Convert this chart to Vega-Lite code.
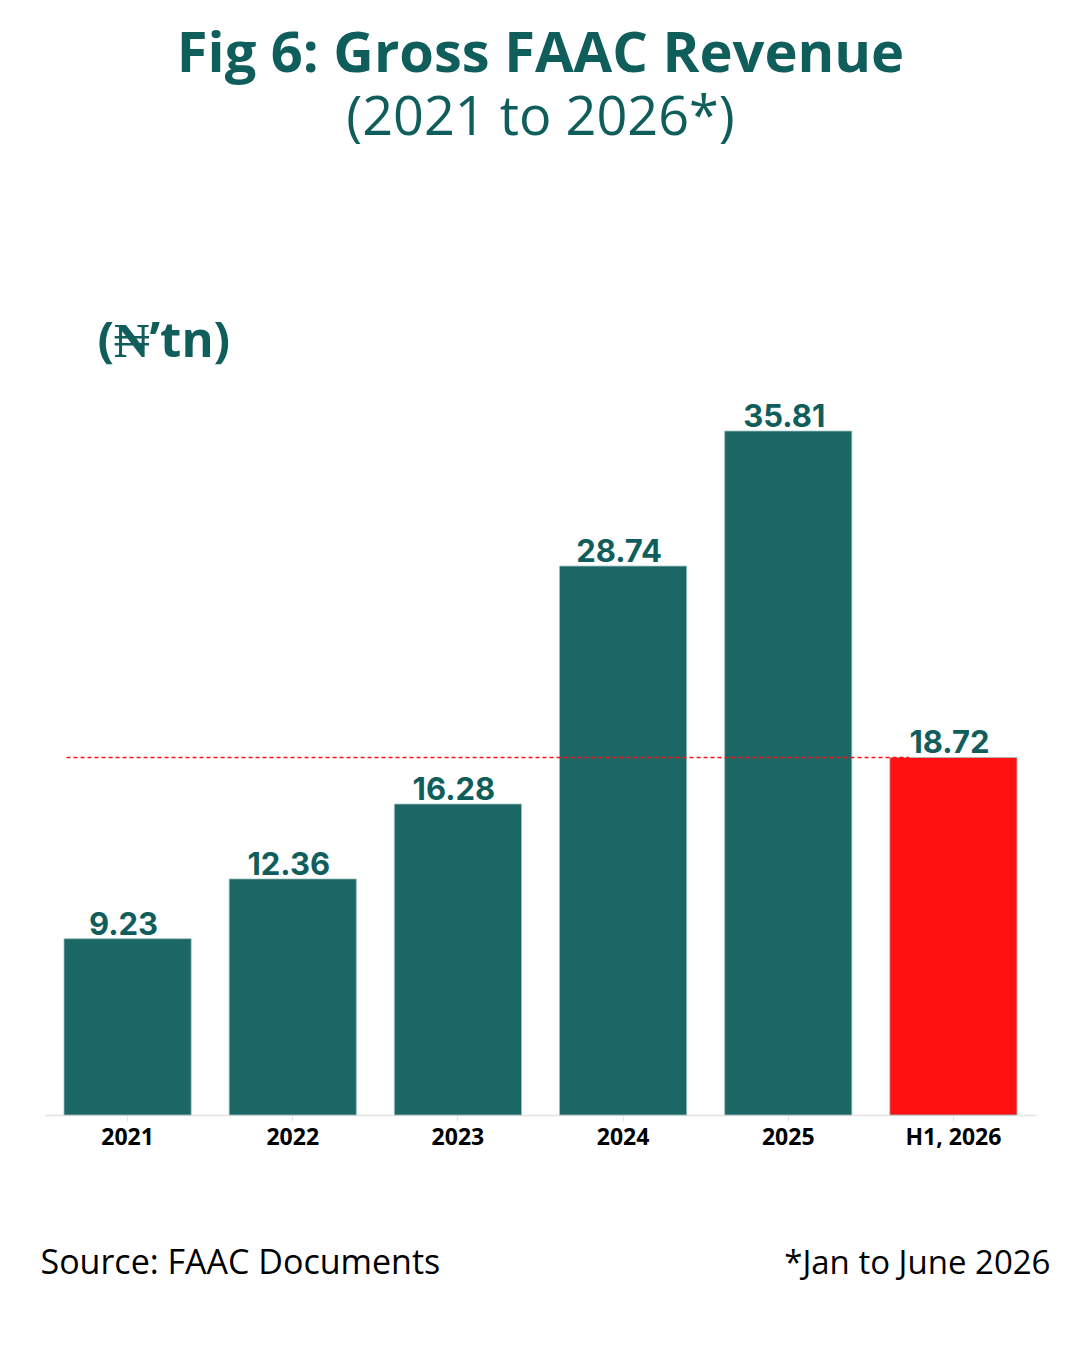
{
  "$schema": "https://vega.github.io/schema/vega-lite/v6.json",
  "width": 991,
  "height": 764,
  "autosize": {"type": "none"},
  "padding": {"left": 45, "top": 351, "right": 44, "bottom": 235},
  "background": "white",
  "config": {"view": {"stroke": null}, "font": "Open Sans"},
  "title": {
    "text": "Fig 6: Gross FAAC Revenue",
    "subtitle": "(2021 to 2026*)",
    "anchor": "middle",
    "frame": "group",
    "font": "Open Sans",
    "fontSize": 56,
    "fontWeight": "bold",
    "color": "#105e5c",
    "subtitleFont": "Open Sans",
    "subtitleFontSize": 54,
    "subtitleFontWeight": "normal",
    "subtitleColor": "#105e5c",
    "subtitlePadding": 8,
    "offset": 170
  },
  "data": {
    "values": [
      {"period": "2021", "value": 9.23, "kind": "Full year"},
      {"period": "2022", "value": 12.36, "kind": "Full year"},
      {"period": "2023", "value": 16.28, "kind": "Full year"},
      {"period": "2024", "value": 28.74, "kind": "Full year"},
      {"period": "2025", "value": 35.81, "kind": "Full year"},
      {"period": "H1, 2026", "value": 18.72, "kind": "Half year"}
    ]
  },
  "encoding": {
    "x": {
      "field": "period",
      "type": "nominal",
      "sort": null,
      "scale": {"paddingInner": 0.23, "paddingOuter": 0.115},
      "axis": {
        "title": "Source: FAAC Documents",
        "titleX": -5,
        "titleY": 158,
        "titleAnchor": "start",
        "titleAlign": "left",
        "titleBaseline": "alphabetic",
        "titleFont": "Open Sans",
        "titleFontSize": 34,
        "titleFontWeight": "normal",
        "titleColor": "#000000",
        "labelAngle": 0,
        "labelFont": "Open Sans",
        "labelFontSize": 23,
        "labelFontWeight": "bold",
        "labelColor": "#000000",
        "labelPadding": 5,
        "domainColor": "#e3e3e3",
        "domainWidth": 1.5,
        "tickColor": "#e3e3e3",
        "tickSize": 6
      }
    },
    "y": {
      "field": "value",
      "type": "quantitative",
      "scale": {"domain": [0, 40]},
      "axis": {
        "title": "(₦’tn)",
        "titleAngle": 0,
        "titleX": 52,
        "titleY": 5,
        "titleAlign": "left",
        "titleBaseline": "alphabetic",
        "titleFont": "Open Sans",
        "titleFontSize": 49,
        "titleFontWeight": "bold",
        "titleColor": "#105e5c",
        "labels": false,
        "ticks": false,
        "domain": false,
        "grid": false
      }
    }
  },
  "layer": [
    {
      "mark": {"type": "bar", "stroke": "#9fc2c0", "strokeWidth": 0.8},
      "encoding": {
        "color": {
          "field": "kind",
          "type": "nominal",
          "scale": {"domain": ["Full year", "Half year"], "range": ["#1b6766", "#ff1111"]},
          "legend": null
        }
      }
    },
    {
      "mark": {"type": "text", "baseline": "alphabetic", "dy": -4, "dx": -4, "font": "Inter", "fontSize": 31, "fontWeight": "bold", "color": "#105e5c"},
      "encoding": {
        "text": {"field": "value", "type": "quantitative", "format": ".2f"}
      }
    },
    {
      "data": {"values": [{"ref": 18.72}]},
      "mark": {"type": "rule", "color": "#ff1111", "strokeWidth": 1.5, "strokeDash": [4, 3]},
      "encoding": {
        "x": {"datum": "2021", "bandPosition": 0.02},
        "x2": {"datum": "H1, 2026", "bandPosition": 0.15},
        "y": {
          "field": "ref",
          "type": "quantitative",
          "axis": {
            "orient": "right",
            "title": "*Jan to June 2026",
            "titleAngle": 0,
            "titleX": 14,
            "titleY": 922,
            "titleAlign": "right",
            "titleBaseline": "alphabetic",
            "titleFont": "Open Sans",
            "titleFontSize": 33,
            "titleFontWeight": "normal",
            "titleColor": "#000000",
            "labels": false,
            "ticks": false,
            "domain": false,
            "grid": false
          }
        }
      }
    }
  ],
  "resolve": {"axis": {"y": "independent"}}
}
